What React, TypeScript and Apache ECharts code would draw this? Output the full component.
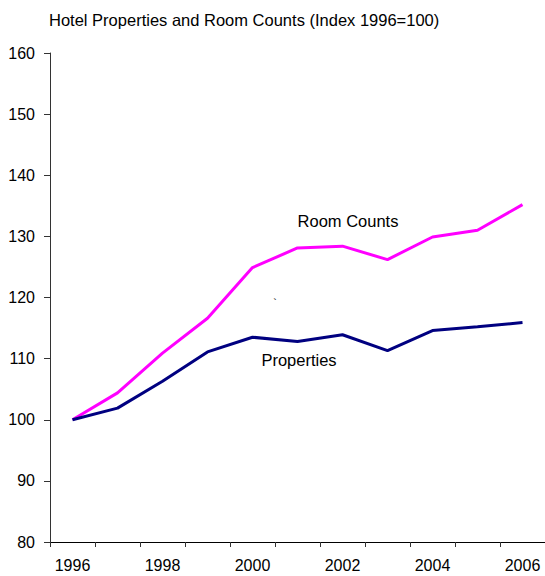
import React, { useEffect, useRef } from "react";
import * as echarts from "echarts";

const years = ["1996", "1997", "1998", "1999", "2000", "2001", "2002", "2003", "2004", "2005", "2006"];
const roomCounts = [100, 104.4, 110.9, 116.6, 124.9, 128.1, 128.4, 126.2, 129.9, 131.0, 135.2];
const properties = [100, 101.9, 106.3, 111.1, 113.5, 112.8, 113.9, 111.3, 114.6, 115.2, 115.9];
const titleText = "Hotel Properties and Room Counts (Index 1996=100)";

const FONT = "'Liberation Sans', Arial, sans-serif";

export default function App() {
  const ref = useRef<HTMLDivElement>(null);
  useEffect(() => {
    if (!ref.current) return;
    const chart = echarts.init(ref.current, undefined, { renderer: "svg" });
    chart.setOption({
      animation: false,
      backgroundColor: "#ffffff",
      title: {
        text: titleText,
        left: 44,
        top: 6,
        textStyle: { fontFamily: FONT, fontSize: 16.5, fontWeight: "normal", color: "#000" },
      },
      grid: { left: 50, right: -3, top: 53, bottom: 34 },
      xAxis: {
        type: "category",
        data: years,
        boundaryGap: true,
        axisLine: { lineStyle: { color: "#000", width: 1 } },
        axisTick: { show: true, length: 5, interval: 0, lineStyle: { color: "#333" } },
        axisLabel: { interval: 1, fontFamily: FONT, fontSize: 16, color: "#000", margin: 15 },
        splitLine: { show: false },
      },
      yAxis: {
        type: "value",
        min: 80,
        max: 160,
        interval: 10,
        axisLine: { show: true, lineStyle: { color: "#333", width: 1 } },
        axisTick: { show: true, length: 6, lineStyle: { color: "#333" } },
        axisLabel: { fontFamily: FONT, fontSize: 16, color: "#000", margin: 15 },
        splitLine: { show: false },
      },
      series: [
        {
          name: "Room Counts",
          type: "line",
          data: roomCounts,
          symbol: "none",
          lineStyle: { color: "#FF00FF", width: 3 },
          itemStyle: { color: "#FF00FF" },
        },
        {
          name: "Properties",
          type: "line",
          data: properties,
          symbol: "none",
          lineStyle: { color: "#000080", width: 3 },
          itemStyle: { color: "#000080" },
        },
      ],
      graphic: [
        {
          type: "text",
          x: 348,
          y: 221,
          style: { text: "Room Counts", fontFamily: FONT, fontSize: 16.5, fill: "#000", align: "center", verticalAlign: "middle" },
        },
        {
          type: "text",
          x: 299,
          y: 360,
          style: { text: "Properties", fontFamily: FONT, fontSize: 16.5, fill: "#000", align: "center", verticalAlign: "middle" },
        },
        {
          type: "text",
          x: 275,
          y: 303,
          style: { text: "`", fontFamily: FONT, fontSize: 11, fill: "#000", align: "center", verticalAlign: "middle" },
        },
      ],
    });
    return () => chart.dispose();
  }, []);
  return <div ref={ref} style={{ position: "absolute", left: 0, top: 0, width: 545, height: 576 }} />;
}
